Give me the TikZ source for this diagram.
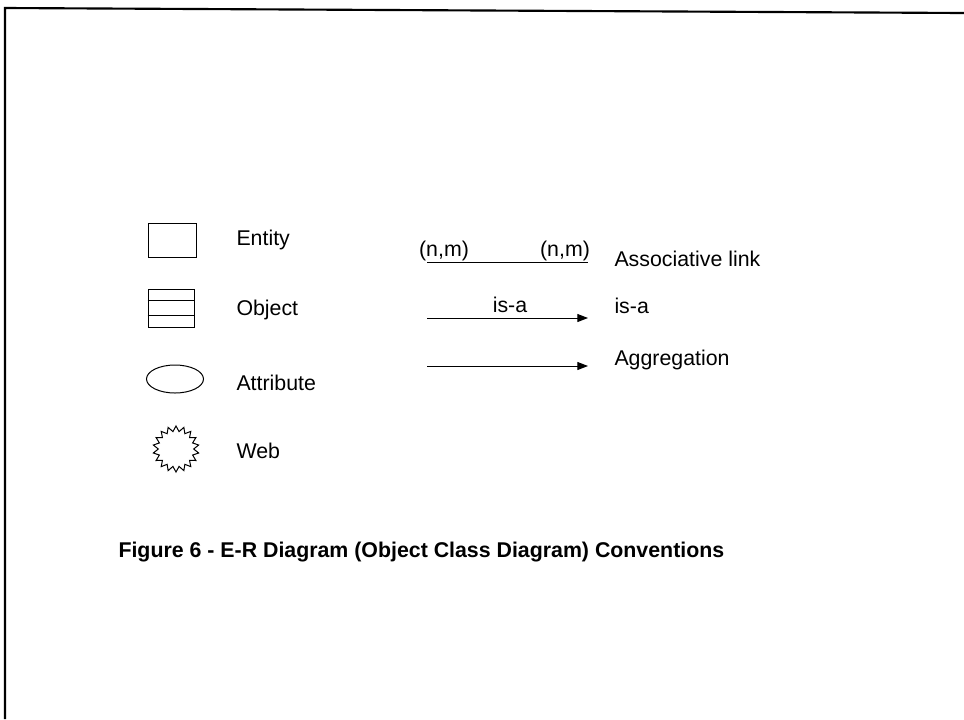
\documentclass[tikz,border=0pt]{standalone}
\usepackage{fontspec}
\setmainfont{Liberation Sans}
\usetikzlibrary{shapes.geometric,arrows.meta,calc,positioning}

\tikzset{every picture/.style={line width=0.75pt}}

\begin{document}
\begin{tikzpicture}[x=0.75pt,y=0.75pt,yscale=-1,xscale=1,
  lbl/.style={anchor=west,inner sep=0.75pt,font=\fontsize{16}{19}\selectfont},
  sym/.style={draw,inner sep=0pt},
  arr/.style={-{Triangle[length=8pt,width=6pt]}}]
\useasboundingbox (0,0) rectangle (964,719);

%Frame
\draw [line width=1.6pt] (5,719) -- (5,8) -- (964,13) ;

%Shape: Rectangle [entity]
\node [sym,minimum width=36pt,minimum height=25.5pt] (entity) at (172,240) {};
%Shape: Rectangle [object]
\node [sym,minimum width=34.5pt,minimum height=28.5pt] (object) at (171,308) {};
\draw ($(object.north west)!0.32!(object.south west)$) -- ($(object.north east)!0.32!(object.south east)$) ;
\draw ($(object.north west)!0.68!(object.south west)$) -- ($(object.north east)!0.68!(object.south east)$) ;
%Shape: Ellipse [attribute]
\node [sym,ellipse,minimum width=42.75pt,minimum height=21pt] (attribute) at (175,379) {};
%Shape: Star [web]
\node [sym,star,star points=18,star point ratio=1.3,minimum size=34.5pt] (web) at (176,449) {};

% Text Node
\node [lbl] (entitytxt) at (235,240) {Entity};
\node [lbl] (objecttxt) at (235,310) {Object};
\node [lbl] (attributetxt) at (235,383) {Attribute};
\node [lbl] (webtxt) at (235,451) {Web};

%Straight Lines [associative link]
\coordinate (assoc1) at (427,262);
\coordinate (assoc2) at (588,262);
\draw (assoc1) -- (assoc2) ;
\node [lbl,anchor=center] (nmleft) at (444,251) {(n,m)};
\node [lbl,anchor=center] (nmright) at (565,251) {(n,m)};

%Straight Lines [is-a]
\coordinate (isa1) at (427,318);
\coordinate (isa2) at (588,318);
\draw [arr] (isa1) -- (isa2) ;
\node [lbl,anchor=center] (isalbl) at (510,305) {is-a};

%Straight Lines [aggregation]
\coordinate (aggr1) at (427,366);
\coordinate (aggr2) at (588,366);
\draw [arr] (aggr1) -- (aggr2) ;

% Text Node
\node [lbl] (assoctxt) at (613,259) {Associative link};
\node [lbl] (isatxt) at (613,306) {is-a};
\node [lbl] (aggrtxt) at (613,360) {Aggregation};

% Caption
\node [lbl,font=\fontsize{16}{19}\selectfont\bfseries] (caption) at (117,552) {Figure 6 - E-R Diagram (Object Class Diagram) Conventions};

\end{tikzpicture}
\end{document}
